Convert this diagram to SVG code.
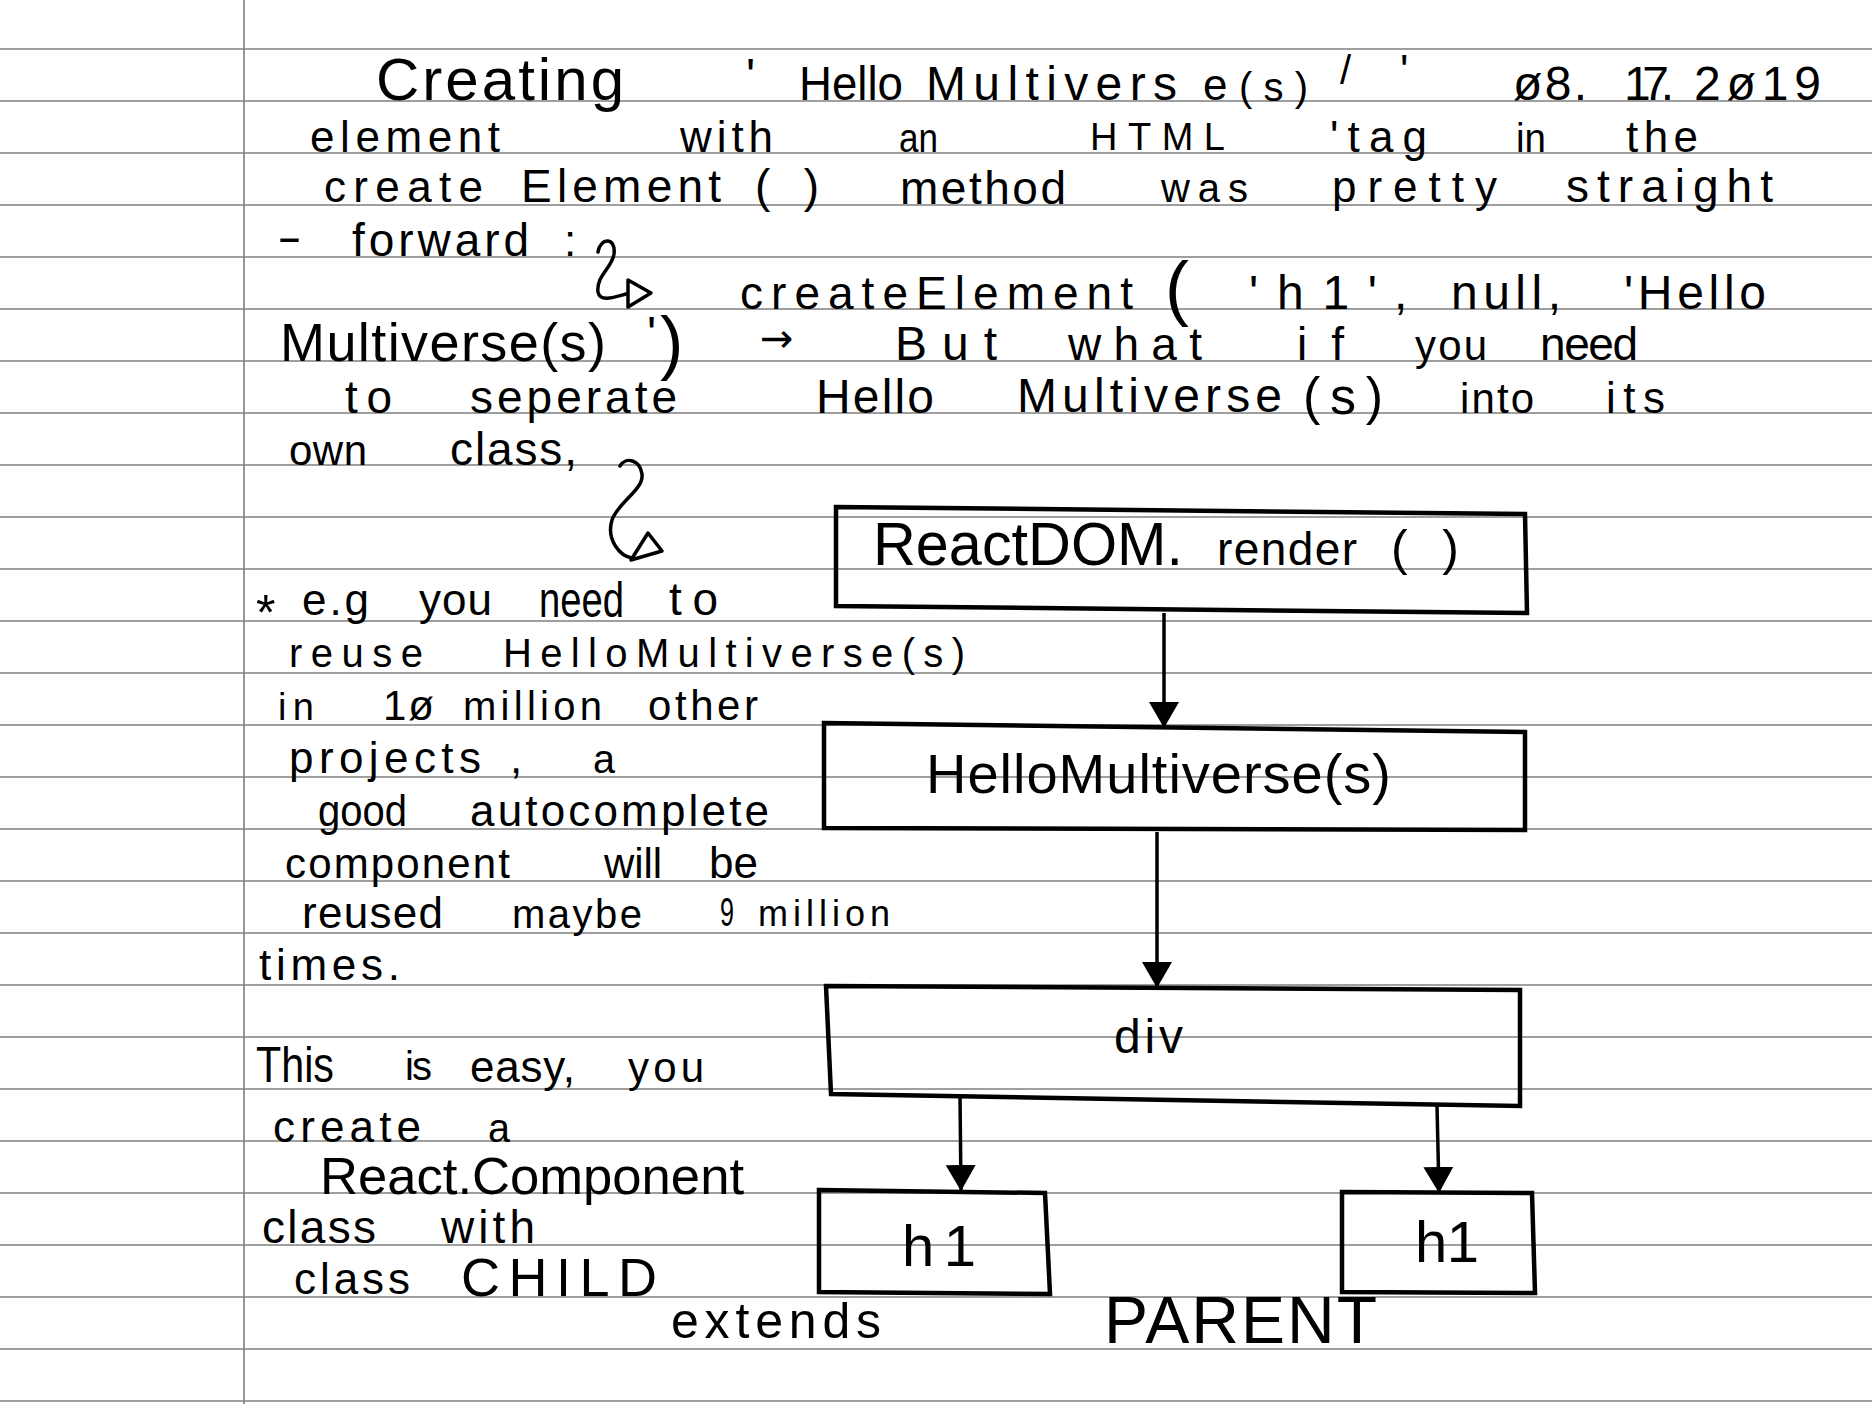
<svg xmlns="http://www.w3.org/2000/svg" width="1872" height="1404" viewBox="0 0 1872 1404">
<defs>
<style>
.rule{stroke:#808080;stroke-width:1.6;fill:none}
.hw{font-family:"Liberation Sans","DejaVu Sans",sans-serif;fill:#000}
.box{fill:none;stroke:#000;stroke-width:4.5;stroke-linejoin:miter}
.con{fill:none;stroke:#000;stroke-width:3.5}
.sq{fill:none;stroke:#000;stroke-width:3.5;stroke-linecap:round;stroke-linejoin:round}
</style>
<marker id="ah" markerUnits="userSpaceOnUse" markerWidth="32" markerHeight="32" refX="26" refY="15" orient="auto">
<path d="M0,0 L26,15 L0,30 Z" fill="#000"/>
</marker>
</defs>
<rect width="1872" height="1404" fill="#fff"/>
<g id="paper">
<path class="rule" d="M0,49H1872M0,101H1872M0,153H1872M0,205H1872M0,257H1872M0,309H1872M0,361H1872M0,413H1872M0,465H1872M0,517H1872M0,569H1872M0,621H1872M0,673H1872M0,725H1872M0,777H1872M0,829H1872M0,881H1872M0,933H1872M0,985H1872M0,1037H1872M0,1089H1872M0,1141H1872M0,1193H1872M0,1245H1872M0,1297H1872M0,1349H1872M0,1401H1872"/>
<path class="rule" d="M244,0V1404"/>
</g>
<g id="notes" class="hw">
<text x="376" y="100" font-size="60" textLength="248" lengthAdjust="spacing">Creating</text>
<text x="746" y="92" font-size="48">'</text>
<text x="799" y="100" font-size="48" textLength="104" lengthAdjust="spacingAndGlyphs">Hello</text>
<text x="926" y="100" font-size="48" textLength="251" lengthAdjust="spacing">Multivers</text>
<text x="1203" y="100" font-size="44">e</text>
<text x="1239" y="101" font-size="40" textLength="69" lengthAdjust="spacing">(s)</text>
<text x="1340" y="84" font-size="40">/</text>
<text x="1400" y="86" font-size="44">'</text>
<text x="1513" y="100" font-size="48" textLength="74" lengthAdjust="spacing">ø8.</text>
<text x="1624" y="100" font-size="48" textLength="50" lengthAdjust="spacing">17.</text>
<text x="1694" y="100" font-size="48" textLength="127" lengthAdjust="spacing">2ø19</text>

<text x="310" y="152" font-size="44" textLength="190" lengthAdjust="spacing">element</text>
<text x="680" y="152" font-size="44" textLength="93" lengthAdjust="spacing">with</text>
<text x="899" y="152" font-size="40" textLength="39" lengthAdjust="spacingAndGlyphs">an</text>
<text x="1090" y="150" font-size="38" textLength="135" lengthAdjust="spacing">HTML</text>
<text x="1330" y="152" font-size="44" textLength="97" lengthAdjust="spacing">'tag</text>
<text x="1516" y="152" font-size="40" textLength="30" lengthAdjust="spacingAndGlyphs">in</text>
<text x="1626" y="152" font-size="44" textLength="72" lengthAdjust="spacing">the</text>

<text x="324" y="202" font-size="44" textLength="159" lengthAdjust="spacing">create</text>
<text x="521" y="202" font-size="46" textLength="200" lengthAdjust="spacing">Element</text>
<text x="755" y="202" font-size="46" textLength="64" lengthAdjust="spacing">( )</text>
<text x="900" y="204" font-size="46" textLength="166" lengthAdjust="spacing">method</text>
<text x="1161" y="202" font-size="40" textLength="87" lengthAdjust="spacing">was</text>
<text x="1332" y="202" font-size="44" textLength="165" lengthAdjust="spacing">pretty</text>
<text x="1566" y="202" font-size="46" textLength="207" lengthAdjust="spacing">straight</text>

<text x="277" y="252" font-size="44" textLength="25" lengthAdjust="spacingAndGlyphs">-</text>
<text x="352" y="256" font-size="46" textLength="177" lengthAdjust="spacing">forward</text>
<text x="564" y="256" font-size="44">:</text>

<text x="740" y="309" font-size="46" textLength="393" lengthAdjust="spacing">createElement</text>
<text x="1165" y="312" font-size="72">(</text>
<text x="1249" y="309" font-size="48" textLength="128" lengthAdjust="spacing">'h1'</text>
<text x="1394" y="309" font-size="48">,</text>
<text x="1451" y="309" font-size="48" textLength="110" lengthAdjust="spacing">null,</text>
<text x="1624" y="309" font-size="48" textLength="142" lengthAdjust="spacing">'Hello</text>

<text x="280" y="361" font-size="54" textLength="326" lengthAdjust="spacing">Multiverse(s)</text>
<text x="647" y="350" font-size="48">'</text>
<text x="660" y="366" font-size="70">)</text>
<text x="760" y="352" font-size="40" style="font-family:'DejaVu Sans',sans-serif">→</text>
<text x="895" y="360" font-size="48" textLength="102" lengthAdjust="spacing">But</text>
<text x="1068" y="360" font-size="46" textLength="134" lengthAdjust="spacing">what</text>
<text x="1297" y="360" font-size="46" textLength="47" lengthAdjust="spacing">if</text>
<text x="1415" y="360" font-size="42" textLength="72" lengthAdjust="spacing">you</text>
<text x="1540" y="360" font-size="46" textLength="98" lengthAdjust="spacing">need</text>

<text x="345" y="413" font-size="46" textLength="47" lengthAdjust="spacing">to</text>
<text x="470" y="413" font-size="46" textLength="207" lengthAdjust="spacing">seperate</text>
<text x="816" y="413" font-size="48" textLength="118" lengthAdjust="spacing">Hello</text>
<text x="1017" y="412" font-size="48" textLength="265" lengthAdjust="spacing">Multiverse</text>
<text x="1303" y="414" font-size="52" textLength="80" lengthAdjust="spacing">(s)</text>
<text x="1460" y="413" font-size="42" textLength="74" lengthAdjust="spacing">into</text>
<text x="1606" y="413" font-size="44" textLength="59" lengthAdjust="spacing">its</text>

<text x="289" y="465" font-size="42" textLength="78" lengthAdjust="spacing">own</text>
<text x="450" y="465" font-size="46" textLength="127" lengthAdjust="spacing">class,</text>

<text x="256" y="630" font-size="50">*</text>
<text x="302" y="615" font-size="44" textLength="67" lengthAdjust="spacing">e.g</text>
<text x="419" y="615" font-size="44" textLength="73" lengthAdjust="spacing">you</text>
<text x="539" y="617" font-size="50" textLength="85" lengthAdjust="spacingAndGlyphs">need</text>
<text x="669" y="615" font-size="46" textLength="49" lengthAdjust="spacing">to</text>

<text x="289" y="667" font-size="40" textLength="134" lengthAdjust="spacing">reuse</text>
<text x="503" y="667" font-size="40" textLength="462" lengthAdjust="spacing">HelloMultiverse(s)</text>

<text x="278" y="720" font-size="38" textLength="36" lengthAdjust="spacing">in</text>
<text x="383" y="720" font-size="42" textLength="51" lengthAdjust="spacing">1ø</text>
<text x="463" y="720" font-size="40" textLength="139" lengthAdjust="spacing">million</text>
<text x="648" y="720" font-size="42" textLength="110" lengthAdjust="spacing">other</text>

<text x="289" y="773" font-size="44" textLength="192" lengthAdjust="spacing">projects</text>
<text x="510" y="773" font-size="44">,</text>
<text x="593" y="773" font-size="40" textLength="22" lengthAdjust="spacingAndGlyphs">a</text>

<text x="318" y="826" font-size="44" textLength="89" lengthAdjust="spacingAndGlyphs">good</text>
<text x="470" y="826" font-size="44" textLength="299" lengthAdjust="spacing">autocomplete</text>

<text x="285" y="878" font-size="42" textLength="225" lengthAdjust="spacing">component</text>
<text x="604" y="878" font-size="42" textLength="58" lengthAdjust="spacing">will</text>
<text x="709" y="878" font-size="44" textLength="49" lengthAdjust="spacing">be</text>

<text x="302" y="928" font-size="44" textLength="141" lengthAdjust="spacing">reused</text>
<text x="512" y="928" font-size="40" textLength="130" lengthAdjust="spacing">maybe</text>
<text x="720" y="926" font-size="40" textLength="14" lengthAdjust="spacingAndGlyphs">9</text>
<text x="758" y="926" font-size="36" textLength="132" lengthAdjust="spacing">million</text>

<text x="259" y="980" font-size="44" textLength="141" lengthAdjust="spacing">times.</text>

<text x="256" y="1082" font-size="50" textLength="78" lengthAdjust="spacingAndGlyphs">This</text>
<text x="405" y="1080" font-size="40" textLength="27" lengthAdjust="spacing">is</text>
<text x="470" y="1082" font-size="44" textLength="105" lengthAdjust="spacing">easy,</text>
<text x="628" y="1082" font-size="42" textLength="76" lengthAdjust="spacing">you</text>

<text x="273" y="1142" font-size="44" textLength="148" lengthAdjust="spacing">create</text>
<text x="488" y="1142" font-size="40" textLength="22" lengthAdjust="spacingAndGlyphs">a</text>

<text x="320" y="1194" font-size="52" textLength="424" lengthAdjust="spacingAndGlyphs">React.Component</text>

<text x="262" y="1243" font-size="46" textLength="114" lengthAdjust="spacing">class</text>
<text x="441" y="1243" font-size="46" textLength="94" lengthAdjust="spacing">with</text>

<text x="294" y="1294" font-size="44" textLength="116" lengthAdjust="spacing">class</text>
<text x="461" y="1296" font-size="54" textLength="196" lengthAdjust="spacing">CHILD</text>

<text x="671" y="1338" font-size="50" textLength="210" lengthAdjust="spacing">extends</text>
<text x="1104" y="1343" font-size="66" textLength="273" lengthAdjust="spacing">PARENT</text>
</g>
<g id="annotations">
<path class="sq" d="M598,252 C600,238 616,236 614,254 C612,268 596,276 598,292 C600,302 612,298 626,294"/>
<path class="sq" d="M628,280 L651,293 L628,307 Z"/>
<path class="sq" d="M620,466 C626,456 640,460 642,474 C644,490 618,502 612,520 C606,540 620,556 632,558"/>
<path class="sq" d="M631,560 L662,551 L648,533 Z"/>
</g>
<g id="connectors">
<path class="con" d="M1164,613 L1164,728" marker-end="url(#ah)"/>
<path class="con" d="M1157,832 L1157,988" marker-end="url(#ah)"/>
<path class="con" d="M960,1096 L961,1191" marker-end="url(#ah)"/>
<path class="con" d="M1437,1106 L1439,1193" marker-end="url(#ah)"/>
</g>
<g id="node-reactdom">
<path class="box" d="M836,507 L1525,514 L1527,613 L836,606 Z"/>
<text class="hw" y="565"><tspan x="873" font-size="62" textLength="310" lengthAdjust="spacingAndGlyphs">ReactDOM.</tspan><tspan x="1217" font-size="46" textLength="140" lengthAdjust="spacing">render</tspan><tspan x="1391" font-size="50" textLength="68" lengthAdjust="spacing">( )</tspan></text>
</g>
<g id="node-hellomultiverse">
<path class="box" d="M824,723 L1525,732 L1525,830 L824,828 Z"/>
<text class="hw" x="926" y="793" font-size="56" textLength="465" lengthAdjust="spacing">HelloMultiverse(s)</text>
</g>
<g id="node-div">
<path class="box" d="M826,986 L1520,990 L1520,1106 L831,1094 Z"/>
<text class="hw" x="1114" y="1053" font-size="48" textLength="69" lengthAdjust="spacing">div</text>
</g>
<g id="node-h1-left">
<path class="box" d="M819,1190 L1045,1193 L1050,1294 L819,1292 Z"/>
<text class="hw" x="902" y="1266" font-size="58" textLength="74" lengthAdjust="spacing">h1</text>
</g>
<g id="node-h1-right">
<path class="box" d="M1342,1192 L1532,1193 L1535,1293 L1342,1292 Z"/>
<text class="hw" x="1415" y="1262" font-size="58" textLength="64" lengthAdjust="spacing">h1</text>
</g>
</svg>
